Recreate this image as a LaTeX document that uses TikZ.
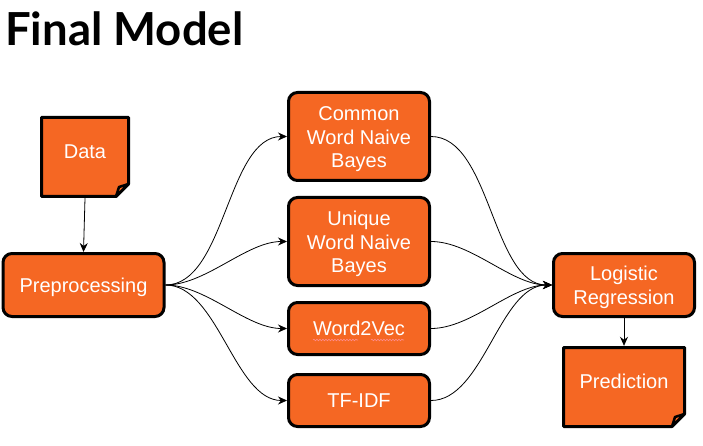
\documentclass[tikz,border=0pt]{standalone}
\usepackage{fontspec}
\setmainfont{Liberation Sans}
\newfontfamily\titlefont{Lato}
\usetikzlibrary{arrows.meta,decorations.pathmorphing}

\definecolor{boxorange}{HTML}{F56723}

\newcommand{\dropline}{\rule{0pt}{19.5pt}}

\tikzset{
  stepbox/.style={draw=black, line width=3pt, fill=boxorange, rounded corners=9pt,
    text=white, align=center, font=\fontsize{20}{23.5}\selectfont,
    inner sep=0pt, minimum width=#1},
  stepbox/.default=141pt,
  notebox/.style={fill=white, text=white, align=center, font=\fontsize{20}{23.5}\selectfont, inner sep=0pt,
    path picture={
      \draw[line width=3pt, fill=boxorange, line join=round]
        ([shift={(1.5pt,-1.5pt)}]path picture bounding box.north west)
        -- ([shift={(-1.5pt,-1.5pt)}]path picture bounding box.north east)
        -- ([shift={(-1.5pt,14pt)}]path picture bounding box.south east)
        -- ([shift={(-14pt,1.5pt)}]path picture bounding box.south east)
        -- ([shift={(1.5pt,1.5pt)}]path picture bounding box.south west) -- cycle;
      \draw[line width=2.5pt, fill=boxorange, line join=round]
        ([shift={(-1.5pt,14pt)}]path picture bounding box.south east)
        -- ([shift={(-11pt,11pt)}]path picture bounding box.south east)
        -- ([shift={(-14pt,1.5pt)}]path picture bounding box.south east) -- cycle;
    }},
  link/.style={draw=black, line width=0.8pt, -{Stealth[length=9pt,width=8pt,inset=3pt]}},
  spellmark/.style={draw=red!45!white, line width=0.6pt,
    decorate, decoration={snake, amplitude=0.8pt, segment length=3pt}}
}

\begin{document}
\begin{tikzpicture}[x=1pt,y=-1pt]
  \useasboundingbox (0,0) rectangle (703,446);

  % title
  \node[anchor=base west, inner sep=0pt, font=\titlefont\bfseries\fontsize{45.5}{46}\selectfont] (title) at (5,46) {Final Model};

  % left side
  \node[notebox, minimum width=90pt, minimum height=82pt] (data) at (85,157) {Data\\[-12pt]\mbox{}};
  \node[stepbox=161pt, minimum height=63pt] (prep) at (83.5,285) {\dropline Preprocessing};

  % the four models
  \node[stepbox, minimum height=88pt] (common) at (359,136.5) {\dropline Common\\Word Naive\\Bayes};
  \node[stepbox, minimum height=88pt] (unique) at (359,241.5) {\dropline Unique\\Word Naive\\Bayes};
  \node[stepbox, minimum height=52pt] (wordvec) at (359,328.5) {Word2Vec};
  \node[stepbox, minimum height=52pt] (tfidf) at (359,400.5) {TF-IDF};

  % right side
  \node[stepbox, minimum height=63pt] (logit) at (624,285) {\dropline Logistic\\Regression};
  \node[notebox, minimum width=124pt, minimum height=82pt] (pred) at (624,387) {Prediction\\[-12pt]\mbox{}};

  % spell check marks under Word2Vec
  \draw[spellmark] (313,340) -- (358,340);
  \draw[spellmark] (371,340) -- (404,340);

  % connectors
  \draw[link] (data.south) -- (prep.north);
  \draw[link] (logit.south) -- (pred.north);
  \foreach \target in {common,unique,wordvec,tfidf} {
    \draw[link] (prep.east) to[out=0,in=180,looseness=0.8] (\target.west);
    \draw[link] (\target.east) to[out=0,in=180,looseness=0.8] (logit.west);
  }
\end{tikzpicture}
\end{document}
